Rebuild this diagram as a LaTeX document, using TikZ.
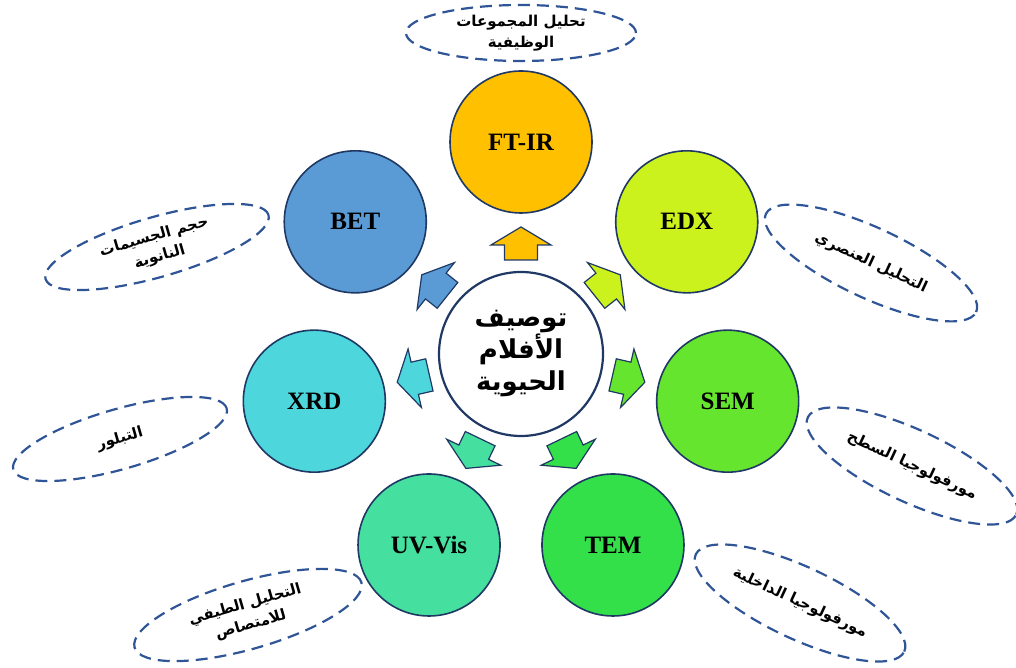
\documentclass[tikz,border=0pt]{standalone}
\usepackage{fontspec}
\setmainfont{Liberation Serif}
\newfontfamily\ar[Script=Arabic]{DejaVu Sans}
\TeXXeTstate=1
\usetikzlibrary{shapes.geometric,calc}
\definecolor{cftir}{HTML}{FFC000}
\definecolor{cedx}{HTML}{CCF21E}
\definecolor{csem}{HTML}{66E52E}
\definecolor{ctem}{HTML}{33E04A}
\definecolor{cuv}{HTML}{45E0A0}
\definecolor{cxrd}{HTML}{4DD6DC}
\definecolor{cbet}{HTML}{5B9BD5}
\definecolor{navy}{HTML}{1F3864}
\definecolor{dashblue}{HTML}{2F5597}
\tikzset{
  tech/.style={circle,draw=navy,line width=1.6pt,minimum size=142pt,inner sep=0pt,font=\fontsize{25}{28}\selectfont\bfseries},
  lbl/.style={ellipse,draw=dashblue,line width=2.2pt,dash pattern=on 12pt off 7pt,inner sep=0pt,align=center,font=\ar\fontsize{15}{21}\selectfont\bfseries},
  blockarrow/.style={draw=navy,line width=1.2pt,line join=miter}
}
\newcommand{\barrow}[2]{%
  \begin{scope}[shift={(C)},rotate=#1-90]
    \draw[blockarrow,fill=#2] (-16.5,94) -- (16.5,94) -- (16.5,109) -- (30,109) -- (0,127) -- (-30,109) -- (-16.5,109) -- cycle;
  \end{scope}}
\begin{document}
\begin{tikzpicture}[x=1pt,y=1pt]
\useasboundingbox (0,0) rectangle (1016,668);
\coordinate (C) at (521,314);
% center
\node[circle,draw=navy,line width=2.2pt,fill=white,minimum size=164pt,inner sep=0pt,align=center,
  font=\ar\fontsize{26}{32}\selectfont\bfseries] (center) at (C)
  {\beginR توصيف\endR\\\beginR الأفلام\endR\\\beginR الحيوية\endR};
% technique circles
\path (C) ++(90:212) node[tech,fill=cftir] (ftir) {FT-IR};
\path (C) ++(38.571:212) node[tech,fill=cedx] (edx) {EDX};
\path (C) ++(-12.857:212) node[tech,fill=csem] (sem) {SEM};
\path (C) ++(-64.286:212) node[tech,fill=ctem] (tem) {TEM};
\path (C) ++(-115.714:212) node[tech,fill=cuv] (uv) {UV-Vis};
\path (C) ++(-167.143:212) node[tech,fill=cxrd] (xrd) {XRD};
\path (C) ++(141.429:212) node[tech,fill=cbet] (bet) {BET};
% arrows
\barrow{90}{cftir}
\barrow{38.571}{cedx}
\barrow{-12.857}{csem}
\barrow{-64.286}{ctem}
\barrow{-115.714}{cuv}
\barrow{-167.143}{cxrd}
\barrow{141.429}{cbet}
% labels
\node[lbl,minimum width=230pt,minimum height=56pt] (lftir) at (521,635)
  {\beginR تحليل المجموعات\endR\\\beginR الوظيفية\endR};
\node[lbl,minimum width=232pt,minimum height=60pt,rotate=16] (lbet) at (157,421)
  {\beginR حجم الجسيمات\endR\\\beginR النانوية\endR};
\node[lbl,minimum width=232pt,minimum height=70pt,rotate=-25] (ledx) at (871,405)
  {\beginR التحليل العنصري\endR};
\node[lbl,minimum width=230pt,minimum height=72pt,rotate=-25] (lsem) at (912,202)
  {\beginR مورفولوجيا السطح\endR};
\node[lbl,minimum width=230pt,minimum height=72pt,rotate=-25] (ltem) at (800,65)
  {\beginR مورفولوجيا الداخلية\endR};
\node[lbl,minimum width=236pt,minimum height=68pt,rotate=16] (luv) at (248,53)
  {\beginR التحليل الطيفي\endR\\\beginR للامتصاص\endR};
\node[lbl,minimum width=222pt,minimum height=60pt,rotate=16] (lxrd) at (120,229)
  {\beginR التبلور\endR};
\end{tikzpicture}
\end{document}
